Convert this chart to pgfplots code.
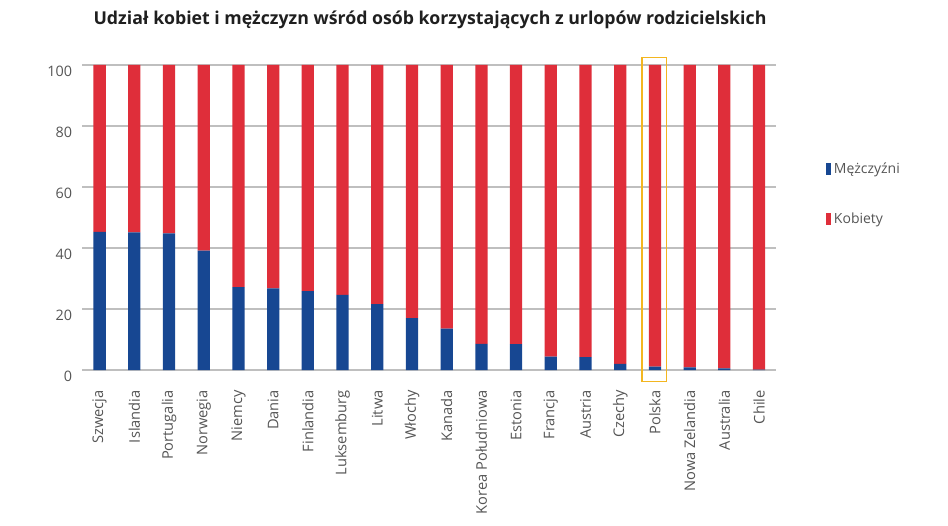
\documentclass[border=0pt]{standalone}
\usepackage{pgfplots}
\pgfplotsset{compat=1.18}
\usepackage{pgfplotstable}
\usepackage{fontspec}
\setmainfont{Open Sans}
\definecolor{menblue}{HTML}{174792}
\definecolor{womenred}{HTML}{DF2E3A}
\definecolor{lblgray}{HTML}{555555}
\definecolor{hlyellow}{HTML}{F3B620}
\pgfplotstableread{
idx men women
0 45.3 54.7
1 45.1 54.9
2 44.8 55.2
3 39.1 60.9
4 27.2 72.8
5 26.8 73.2
6 25.9 74.1
7 24.6 75.4
8 21.6 78.4
9 17.0 83.0
10 13.6 86.4
11 8.6 91.4
12 8.5 91.5
13 4.4 95.6
14 4.2 95.8
15 2.0 98.0
16 1.1 98.9
17 0.9 99.1
18 0.5 99.5
19 0.1 99.9
}\datatable
\begin{document}
\begin{tikzpicture}
\useasboundingbox (0,0) rectangle (711pt,393.75pt);
\node[font=\bfseries\fontsize{13.3}{15}\selectfont, text=black!88] at (322.5pt,378.75pt) {Udział kobiet i mężczyzn wśród osób korzystających z urlopów rodzicielskich};
\begin{axis}[
  at={(61.7pt,116.25pt)}, anchor=south west,
  scale only axis, width=520.6pt, height=228.75pt,
  xmin=-0.5, xmax=19.5, ymin=0, ymax=100,
  clip=false,
  ybar stacked, bar width=9.2pt,
  axis line style={draw=none}, tick style={draw=none},
  ymajorgrids, major grid style={gray!50, line width=0.8pt},
  ytick={0,20,40,60,80,100},
  xtick={0,...,19},
  xticklabels={Szwecja,Islandia,Portugalia,Norwegia,Niemcy,Dania,Finlandia,Luksemburg,Litwa,Włochy,Kanada,Korea Południowa,Estonia,Francja,Austria,Czechy,Polska,Nowa Zelandia,Australia,Chile},
  xticklabel style={rotate=90, anchor=east, inner sep=0pt, text=lblgray, font=\fontsize{11}{13}\selectfont},
  xticklabel shift=15pt,
  yticklabel style={anchor=east, inner sep=0pt, text=lblgray, font=\fontsize{10.8}{13}\selectfont, yshift=-5pt},
  yticklabel shift=7.5pt,
  /pgf/number format/assume math mode=true,
  legend cell align=left,
  legend style={at={(1.071,0.577)}, anchor=west, draw=none, fill=none, inner sep=0pt,
    row sep=24pt, font=\fontsize{10.5}{12}\selectfont, text=lblgray,
    /tikz/every even column/.append style={column sep=7pt}},
  legend image code/.code={\fill[#1] (0pt,-4.5pt) rectangle (4pt,4.5pt);},
]
\addplot[fill=menblue, draw=none] table[x=idx, y=men] {\datatable};
\addlegendentry{Mężczyźni}
\addplot[fill=womenred, draw=none] table[x=idx, y=women] {\datatable};
\addlegendentry{Kobiety}
\draw[hlyellow, line width=1.1pt] (axis cs:15.63,-3.84) rectangle (axis cs:16.33,102.5);
\end{axis}
\end{tikzpicture}
\end{document}
